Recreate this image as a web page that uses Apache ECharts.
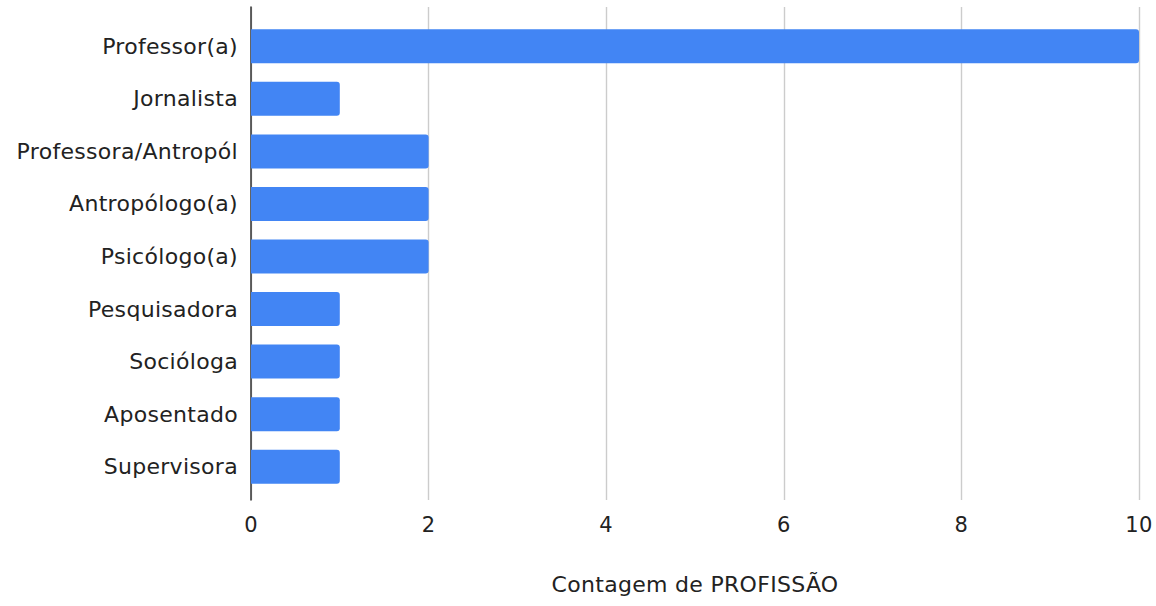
<!DOCTYPE html>
<html>
<head>
<meta charset="utf-8">
<script src="https://cdn.jsdelivr.net/npm/echarts@6/dist/echarts.min.js"></script>
<style>
  html, body { margin: 0; padding: 0; background: #fff; }
  #chart { width: 1156px; height: 606px; }
  #chart svg text { letter-spacing: 0.3px; }
</style>
</head>
<body>
<div id="chart"></div>
<script>
// Professions and how many respondents reported each one
const categories = [
  'Professor(a)', 'Jornalista', 'Professora/Antropól', 'Antropólogo(a)',
  'Psicólogo(a)', 'Pesquisadora', 'Socióloga', 'Aposentado', 'Supervisora'
];
const counts = [10, 1, 2, 2, 2, 1, 1, 1, 1];
const xTicks = [0, 2, 4, 6, 8, 10];
const axisTitle = 'Contagem de PROFISSÃO';

const FONT = '"DejaVu Sans", sans-serif';
const TEXT = '#222222';
const chart = echarts.init(document.getElementById('chart'), null, { renderer: 'svg' });

chart.setOption({
  backgroundColor: '#ffffff',
  animation: false,
  grid: [
    // bars
    { left: 251, right: 17, top: 20, bottom: 113 },
    // frame: gridlines, value labels, baseline
    { left: 251, right: 17, top: 7, bottom: 106 }
  ],
  xAxis: [
    { gridIndex: 0, type: 'value', min: 0, max: 10, show: false },
    {
      gridIndex: 1, type: 'value', min: xTicks[0], max: xTicks[xTicks.length - 1], interval: 2,
      axisLine: { show: false }, axisTick: { show: false },
      splitLine: { show: true, lineStyle: { color: '#cccccc', width: 1.4 } },
      axisLabel: {
        margin: 14, color: TEXT, fontFamily: FONT, fontSize: 21,
        formatter: v => xTicks.includes(v) ? String(v) : ''
      },
      name: axisTitle, nameLocation: 'middle', nameGap: 73,
      nameTextStyle: { color: TEXT, fontFamily: FONT, fontSize: 22 }
    }
  ],
  yAxis: [
    {
      gridIndex: 0, type: 'category', data: categories, inverse: true,
      axisLine: { show: false }, axisTick: { show: false }, splitLine: { show: false },
      axisLabel: { margin: 13, color: TEXT, fontFamily: FONT, fontSize: 22 }
    },
    {
      gridIndex: 1, type: 'value', min: 0, max: 1,
      axisLine: { show: true, onZero: false, lineStyle: { color: '#333333', width: 1.5 } },
      axisTick: { show: false }, axisLabel: { show: false }, splitLine: { show: false }
    }
  ],
  series: [{
    type: 'bar',
    xAxisIndex: 0,
    yAxisIndex: 0,
    data: counts,
    barWidth: 34,
    itemStyle: { color: '#4285f4', borderRadius: [0, 3, 3, 0] },
    z: 3
  }]
});
</script>
</body>
</html>
